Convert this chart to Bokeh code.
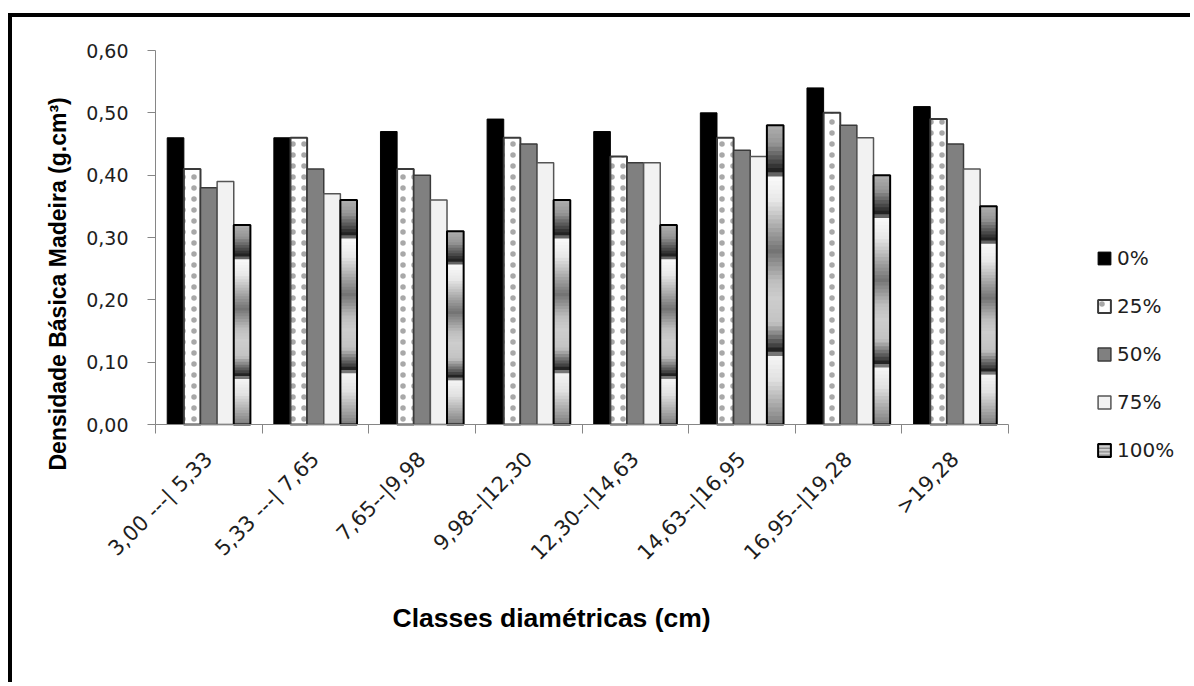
import numpy as np
from bokeh.plotting import figure
from bokeh.models import (ColumnDataSource, FixedTicker, CustomJSTickFormatter,
                          Legend, LegendItem, Title, Range1d)
from bokeh.embed import file_html
from bokeh.resources import INLINE

# ---------------- data ----------------
categories = ["3,00 ---| 5,33", "5,33 ---| 7,65", "7,65--|9,98", "9,98--|12,30",
              "12,30--|14,63", "14,63--|16,95", "16,95--|19,28", ">19,28"]
series_names = ["0%", "25%", "50%", "75%", "100%"]
v0 = [0.46, 0.46, 0.47, 0.49, 0.47, 0.50, 0.54, 0.51]
v25 = [0.41, 0.46, 0.41, 0.46, 0.43, 0.46, 0.50, 0.49]
v50 = [0.38, 0.41, 0.40, 0.45, 0.42, 0.44, 0.48, 0.45]
v75 = [0.39, 0.37, 0.36, 0.42, 0.42, 0.43, 0.46, 0.41]
v100 = [0.32, 0.36, 0.31, 0.36, 0.32, 0.48, 0.40, 0.35]
y_ticks = [0.0, 0.1, 0.2, 0.3, 0.4, 0.5, 0.6]

series_values = [v0, v25, v50, v75, v100]

# ---------------- layout geometry (pixels) ----------------
W, H = 1182, 669            # canvas (inside the black frame lines)
EXTRA_UP = 14               # room above the top tick label
LEFT, TOP = 73, 33 - EXTRA_UP
EXTRA_LEFT = 70             # room left of the y axis (tick labels)
AXIS_W, AXIS_H = 853, 374   # length of the x axis and of the y axis
EXTRA_DOWN = 174            # room under the x axis (tick labels, legend rows)
frame_w = W - LEFT
frame_h = AXIS_H + EXTRA_DOWN + EXTRA_UP
n_cat = len(categories)
y_max = 0.6
px_per_cat = AXIS_W / n_cat
x_start = -EXTRA_LEFT / px_per_cat
x_end = (frame_w - EXTRA_LEFT) / px_per_cat
y_start = -y_max * EXTRA_DOWN / AXIS_H
y_end = y_max + y_max * EXTRA_UP / AXIS_H

p = figure(width=W, height=H, output_backend="svg", toolbar_location=None,
           x_range=Range1d(x_start, x_end), y_range=Range1d(y_start, y_end),
           min_border_left=LEFT, min_border_right=0, min_border_top=TOP,
           min_border_bottom=H - TOP - frame_h)
p.styles = {"margin-left": "8px", "margin-top": "13px",
            "border-left": "4px solid black", "border-top": "4px solid black"}
p.outline_line_color = None
p.xgrid.visible = False
p.ygrid.visible = False
p.background_fill_color = "white"
p.border_fill_color = "white"

bw = 0.156
n_s = len(series_names)
centers = np.arange(n_cat) + 0.5


def xs_for(j):
    return list(centers + (j - (n_s - 1) / 2) * bw)


styles = [
    dict(fill_color="black", line_color="black", line_width=1),
    dict(fill_color="white", line_color="#3a3a3a", line_width=2,
         hatch_pattern="dot", hatch_scale=11, hatch_weight=1.0, hatch_color="#a8a8a8"),
    dict(fill_color="#808080", line_color="#3a3a3a", line_width=1.5),
    dict(fill_color="#f2f2f2", line_color="#555555", line_width=1.5),
    dict(fill_color="#d0d0d0", hatch_pattern="horizontal_line", hatch_scale=3.5,
         hatch_weight=1, hatch_color="#6a6a6a", line_color="black", line_width=2),
]

renderers = []
for j in range(4):
    src = ColumnDataSource(dict(x=xs_for(j), top=series_values[j]))
    renderers.append(p.vbar(x="x", top="top", bottom=0, width=bw, source=src, **styles[j]))

# 100% series: banded gradient made of nested bars drawn top-down
stops_f = [0.0, 0.06, 0.15, 0.160, 0.172, 0.25, 0.42, 0.52, 0.58, 0.66, 0.74, 0.758, 0.772, 0.85, 1.0]
stops_g = [175, 150, 35, 15, 250, 232, 115, 190, 205, 195, 60, 15, 245, 225, 125]
N = 70
gx, gtop, gcol = [], [], []
x100 = xs_for(4)
for k in range(N):
    f = (k + 0.5) / N
    g = int(round(np.interp(f, stops_f, stops_g)))
    c = "#%02x%02x%02x" % (g, g, g)
    for i, v in enumerate(v100):
        gx.append(x100[i])
        gtop.append(v * (1 - k / N))
        gcol.append(c)
p.vbar(x="x", top="top", bottom=0, width=bw, fill_color="c", line_color=None,
       source=ColumnDataSource(dict(x=gx, top=gtop, c=gcol)))
p.vbar(x=x100, top=v100, bottom=0, width=bw, fill_color=None, line_color="black", line_width=2)

# legend swatch for the 100% series (hidden in the plot itself)
renderers.append(p.vbar(x=x100, top=v100, bottom=0, width=bw, visible=False, **styles[4]))

# ---------------- axes ----------------
ax_col = "#868686"
xa = p.xaxis[0]
xa.fixed_location = 0
xa.bounds = (0, n_cat)
xa.ticker = FixedTicker(ticks=list(centers), minor_ticks=list(range(n_cat + 1)))
xa.formatter = CustomJSTickFormatter(args=dict(labels=categories),
                                     code="return labels[Math.floor(tick)];")
xa.major_tick_out = 0
xa.major_tick_in = 0
xa.minor_tick_out = 9
xa.minor_tick_in = 0
xa.minor_tick_line_color = ax_col
xa.axis_line_color = ax_col
xa.major_label_orientation = np.pi / 4
xa.major_label_standoff = 22
xa.major_label_text_font = "DejaVu Sans"
xa.major_label_text_font_size = "21px"
xa.major_label_text_color = "#1e1e1e"

ya = p.yaxis[0]
ya.fixed_location = 0
ya.bounds = (0, y_max)
ya.ticker = FixedTicker(ticks=y_ticks)
ya.formatter = CustomJSTickFormatter(code="return tick.toFixed(2).replace('.', ',');")
ya.major_tick_out = 8
ya.major_tick_in = 0
ya.minor_tick_line_color = None
ya.major_tick_line_color = ax_col
ya.axis_line_color = ax_col
ya.major_label_standoff = 19
ya.major_label_text_font = "DejaVu Sans"
ya.major_label_text_font_size = "19px"
ya.major_label_text_color = "#1e1e1e"

p.add_layout(Title(text="Densidade Básica Madeira (g.cm³)", align="left", offset=128,
                   text_font="Liberation Sans", text_font_size="23px",
                   text_font_style="bold", text_color="black", standoff=30), "left")
p.add_layout(Title(text="Classes diamétricas (cm)", align="left", offset=237 + EXTRA_LEFT,
                   text_font="Liberation Sans", text_font_size="26.5px",
                   text_font_style="bold", text_color="black", standoff=5), "below")

# ---------------- legend ----------------
legend = Legend(items=[LegendItem(label=series_names[j], renderers=[renderers[j]])
                       for j in range(n_s)],
                location=(941 + EXTRA_LEFT, 136), padding=0, margin=0, spacing=24,
                glyph_width=16, glyph_height=16, label_height=24,
                label_standoff=5, label_text_font="DejaVu Sans",
                label_text_font_size="20px", label_text_color="#1e1e1e",
                border_line_color=None, background_fill_alpha=0,
                inactive_fill_alpha=0)
p.add_layout(legend, "center")

open("out.html", "w").write(file_html(p, INLINE))
